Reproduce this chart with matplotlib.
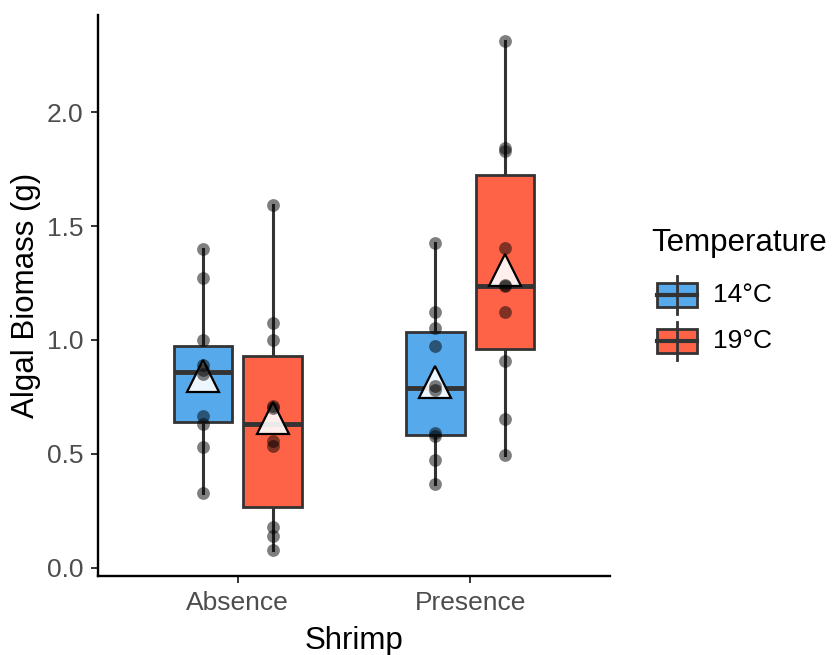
import numpy as np
import matplotlib.pyplot as plt
from matplotlib.patches import Rectangle
from matplotlib.lines import Line2D

plt.rcParams['font.family'] = ['Liberation Sans', 'DejaVu Sans']

shrimp = ["Absence", "Presence"]
temps = ["14°C", "19°C"]
colors = ["#56A9EB", "#FF6347"]

# biomass (g) per shrimp level and temperature
absence_14 = [0.33, 0.53, 0.63, 0.665, 0.85, 0.87, 0.89, 1.00, 1.27, 1.40]
absence_19 = [0.076, 0.141, 0.18, 0.534, 0.556, 0.702, 0.71, 1.00, 1.073, 1.594]
presence_14 = [0.367, 0.472, 0.58, 0.59, 0.78, 0.80, 0.974, 1.054, 1.124, 1.427]
presence_19 = [0.495, 0.655, 0.908, 1.124, 1.235, 1.24, 1.405, 1.83, 1.844, 2.314]

groups = {
    ("Absence", "14°C"): absence_14,
    ("Absence", "19°C"): absence_19,
    ("Presence", "14°C"): presence_14,
    ("Presence", "19°C"): presence_19,
}

fig = plt.figure(figsize=(8.35, 6.55), dpi=100)
ax = fig.add_axes([98 / 835, 79 / 655, 512 / 835, 561 / 655])

edge = "#333333"
offsets = [-0.15, 0.15]
for i, s in enumerate(shrimp):
    for j, t in enumerate(temps):
        vals = np.array(groups[(s, t)])
        pos = i + 1 + offsets[j]
        bp = ax.boxplot(vals, positions=[pos], widths=0.25, patch_artist=True,
                        showfliers=False, showcaps=False, whis=1.5,
                        manage_ticks=False)
        for b in bp["boxes"]:
            b.set(facecolor=colors[j], edgecolor=edge, linewidth=2, zorder=2)
        for w in bp["whiskers"]:
            w.set(color=edge, linewidth=2.2, zorder=1)
        for m in bp["medians"]:
            m.set(color=edge, linewidth=3.5, zorder=3)
        ax.plot([pos], [vals.mean()], marker="^", markersize=23,
                markerfacecolor=(1, 1, 1, 0.9), markeredgecolor="black",
                markeredgewidth=1.6, linestyle="none", zorder=4)
        ax.scatter(np.full(len(vals), pos), vals, s=85, color="black",
                   alpha=0.5, linewidths=0, zorder=5)

ax.set_xlim(0.4, 2.6)
ax.set_ylim(-0.036, 2.426)
ax.set_xticks([1, 2])
ax.set_xticklabels(shrimp)
ax.set_yticks([0, 0.5, 1.0, 1.5, 2.0])
ax.set_yticklabels(["0.0", "0.5", "1.0", "1.5", "2.0"])
for sp in ["top", "right"]:
    ax.spines[sp].set_visible(False)
for sp in ["left", "bottom"]:
    ax.spines[sp].set_linewidth(1.7)
    ax.spines[sp].set_color("black")
ax.tick_params(axis="both", labelsize=19, labelcolor="#4D4D4D", color="#333333",
               length=5, width=1.4, pad=5.5)
ax.set_xlabel("Shrimp", fontsize=22.5, labelpad=8)
ax.set_ylabel("Algal Biomass (g)", fontsize=22.5, labelpad=4)

# legend drawn as boxplot glyphs
W, H = 835, 655
fig.text(651 / W, 1 - 243 / H, "Temperature", fontsize=22.5, va="center", ha="left")
for j, t in enumerate(temps):
    cy = 295 + 46 * j
    x0, x1 = 657, 697
    xm = (x0 + x1) / 2
    fig.add_artist(Line2D([xm / W, xm / W], [1 - (cy - 19) / H, 1 - (cy + 19) / H],
                          color=edge, linewidth=2))
    fig.add_artist(Rectangle((x0 / W, 1 - (cy + 12) / H), (x1 - x0) / W, 24 / H,
                             facecolor=colors[j], edgecolor=edge, linewidth=2))
    fig.add_artist(Line2D([x0 / W, x1 / W], [1 - cy / H, 1 - cy / H],
                          color=edge, linewidth=3))
    fig.text(713 / W, 1 - cy / H, t, fontsize=19, va="center", ha="left")

fig.savefig("out.png", dpi=100)
